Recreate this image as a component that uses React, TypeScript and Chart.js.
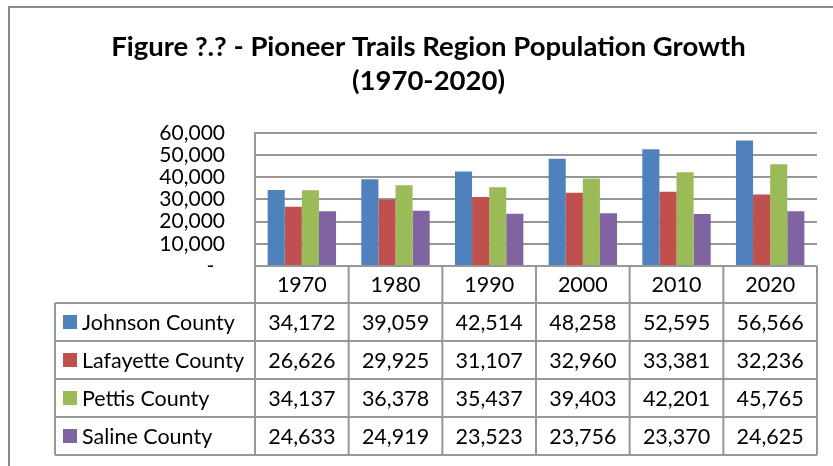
import { useEffect, useRef } from 'react';
import { Chart, registerables } from 'chart.js';

Chart.register(...registerables);

const years = ['1970', '1980', '1990', '2000', '2010', '2020'];
const seriesNames = ['Johnson County', 'Lafayette County', 'Pettis County', 'Saline County'];
const johnson = [34172, 39059, 42514, 48258, 52595, 56566];
const lafayette = [26626, 29925, 31107, 32960, 33381, 32236];
const pettis = [34137, 36378, 35437, 39403, 42201, 45765];
const saline = [24633, 24919, 23523, 23756, 23370, 24625];
const seriesColors = ['#4F81BD', '#C0504D', '#9BBB59', '#8064A2'];
const titleLines = ['Figure ?.? - Pioneer Trails Region Population Growth', '(1970-2020)'];

const FONT = 'Lato, "Open Sans", sans-serif';
const LINE = '#979797';

const framePlugin = {
  id: 'frame',
  beforeDraw(chart: any) {
    const { ctx } = chart;
    ctx.save();
    ctx.fillStyle = '#ffffff';
    ctx.fillRect(0, 0, chart.width, chart.height);
    ctx.strokeStyle = '#8a8a8a';
    ctx.lineWidth = 2;
    ctx.strokeRect(9, 7, 2000, 2000);
    ctx.restore();
  },
};

const tablePlugin = {
  id: 'dataTable',
  afterDraw(chart: any) {
    const { ctx } = chart;
    const { left, right, bottom } = chart.chartArea;
    const labels: string[] = chart.data.labels;
    const n = labels.length;
    const colW = (right - left) / n;
    const headerH = 37;
    const rowH = 38;
    const legendLeft = 55;
    const datasets = chart.data.datasets;
    const tableBottom = bottom + headerH + rowH * datasets.length;

    ctx.save();
    ctx.strokeStyle = LINE;
    ctx.lineWidth = 2;
    ctx.beginPath();
    ctx.moveTo(left, bottom);
    ctx.lineTo(right, bottom);
    for (let i = 0; i <= n; i++) {
      const x = left + i * colW;
      ctx.moveTo(x, bottom);
      ctx.lineTo(x, tableBottom);
    }
    ctx.moveTo(legendLeft, bottom + headerH);
    ctx.lineTo(legendLeft, tableBottom);
    for (let r = 0; r <= datasets.length; r++) {
      const y = bottom + headerH + r * rowH;
      ctx.moveTo(legendLeft, y);
      ctx.lineTo(right, y);
    }
    ctx.stroke();

    ctx.fillStyle = '#000';
    ctx.font = `21.5px ${FONT}`;
    ctx.textBaseline = 'middle';
    ctx.textAlign = 'center';
    labels.forEach((lab, i) => {
      ctx.fillText(lab, left + (i + 0.5) * colW, bottom + headerH / 2 + 1);
    });
    datasets.forEach((ds: any, r: number) => {
      const cy = bottom + headerH + r * rowH + rowH / 2 + 1;
      ctx.textAlign = 'center';
      ctx.fillStyle = '#000';
      ds.data.forEach((v: number, i: number) => {
        ctx.fillText(v.toLocaleString('en-US'), left + (i + 0.5) * colW, cy);
      });
      ctx.fillStyle = ds.backgroundColor;
      ctx.fillRect(legendLeft + 8, cy - 8, 14, 14);
      ctx.fillStyle = '#000';
      ctx.textAlign = 'left';
      ctx.fillText(ds.label, legendLeft + 27, cy);
    });
    ctx.restore();
  },
};

export default function App() {
  const canvasRef = useRef<HTMLCanvasElement | null>(null);

  useEffect(() => {
    const canvas = canvasRef.current;
    if (!canvas) return;
    const seriesData = [johnson, lafayette, pettis, saline];
    const chart = new Chart(canvas, {
      type: 'bar',
      data: {
        labels: years,
        datasets: seriesNames.map((name, i) => ({
          label: name,
          data: seriesData[i],
          backgroundColor: seriesColors[i],
          borderWidth: 0,
          barPercentage: 1,
          categoryPercentage: 0.73,
        })),
      },
      options: {
        animation: false,
        responsive: false,
        maintainAspectRatio: false,
        layout: { padding: { left: 40, right: 16, top: 0, bottom: 200 } },
        plugins: {
          legend: { display: false },
          tooltip: { enabled: false },
          title: {
            display: true,
            text: titleLines,
            color: '#000',
            font: { family: FONT, size: 27.5, weight: 'bold', lineHeight: 1.25 },
            padding: { top: 30, bottom: 34 },
          },
        },
        scales: {
          x: { display: false },
          y: {
            min: 0,
            max: 60000,
            ticks: {
              stepSize: 10000,
              autoSkip: false,
              color: '#000',
              padding: 30,
              font: { family: FONT, size: 21 },
              callback: (v: any) => (Number(v) === 0 ? '-  ' : Number(v).toLocaleString('en-US')),
            },
            grid: { color: LINE, lineWidth: 2, drawTicks: false },
            border: { display: true, color: LINE, width: 2 },
            afterFit: (scale: any) => {
              scale.width = 215;
            },
          },
        },
      },
      plugins: [framePlugin, tablePlugin],
    });
    return () => chart.destroy();
  }, []);

  return (
    <div style={{ position: 'fixed', left: 0, top: 0, width: 833, height: 466, background: '#fff' }}>
      <canvas ref={canvasRef} width={833} height={466} style={{ display: 'block', width: 833, height: 466 }} />
    </div>
  );
}
